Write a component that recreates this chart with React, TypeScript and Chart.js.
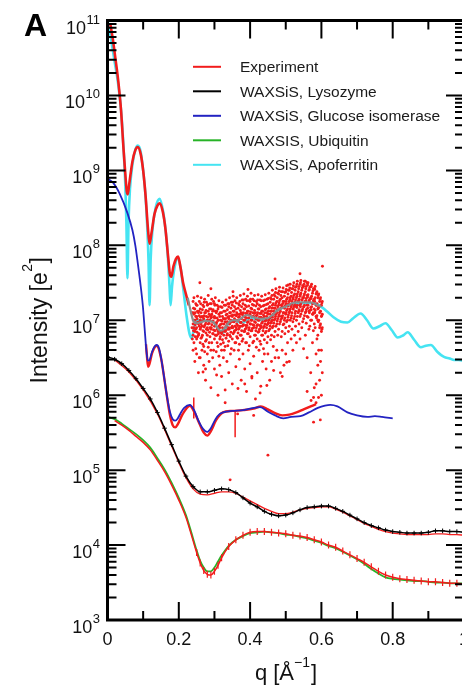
import React, { useEffect, useRef } from "react";
import { Chart, registerables } from "chart.js";
Chart.register(...registerables);

// ---------- data (q in 1/Å, intensities stored as log10 of e^2) ----------
const apoQ = [0, 0.01, 0.02, 0.03, 0.038, 0.045, 0.05, 0.053, 0.056, 0.059, 0.063, 0.07, 0.078, 0.085, 0.093, 0.1, 0.106, 0.111, 0.115, 0.118, 0.121, 0.126, 0.135, 0.146, 0.156, 0.164, 0.17, 0.174, 0.177, 0.181, 0.188, 0.197, 0.205, 0.213, 0.222, 0.23, 0.236, 0.243, 0.25, 0.262, 0.28, 0.296, 0.31, 0.318, 0.324, 0.33, 0.34, 0.352, 0.365, 0.38, 0.4, 0.428, 0.45, 0.465, 0.476, 0.493, 0.521, 0.56, 0.59, 0.615, 0.634, 0.655, 0.673, 0.69, 0.71, 0.728, 0.746, 0.763, 0.78, 0.797, 0.814, 0.83, 0.842, 0.86, 0.879, 0.893, 0.907, 0.925, 0.944, 0.96, 0.972, 0.985, 1.0];
const apoLogI = [11.0, 10.75, 10.45, 10.15, 9.8, 9.3, 8.8, 8.3, 7.56, 8.3, 8.75, 9.08, 9.27, 9.33, 9.25, 9.0, 8.7, 8.3, 7.8, 7.2, 7.8, 8.2, 8.5, 8.62, 8.45, 8.15, 7.8, 7.45, 7.2, 7.45, 7.7, 7.82, 7.7, 7.4, 7.05, 6.82, 6.76, 6.9, 7.0, 7.0, 7.0, 6.98, 6.88, 6.83, 6.83, 6.88, 6.96, 7.0, 6.98, 6.97, 7.03, 7.0, 7.0, 7.07, 7.13, 7.17, 7.21, 7.23, 7.21, 7.12, 7.04, 6.98, 6.97, 7.03, 7.09, 7.0, 6.89, 6.92, 6.96, 6.87, 6.77, 6.8, 6.84, 6.74, 6.64, 6.66, 6.67, 6.58, 6.51, 6.49, 6.47, 6.47, 6.46];

const expApoQ = [0.008, 0.015, 0.022, 0.03, 0.038, 0.045, 0.05, 0.054, 0.057, 0.061, 0.07, 0.078, 0.085, 0.093, 0.1, 0.107, 0.113, 0.118, 0.123, 0.132, 0.14, 0.146, 0.155, 0.163, 0.17, 0.175, 0.179, 0.185, 0.192, 0.198, 0.205, 0.212, 0.22, 0.228];
const expApoLogI = [10.95, 10.75, 10.5, 10.2, 9.8, 9.28, 8.95, 8.72, 8.68, 8.82, 9.12, 9.27, 9.31, 9.22, 9.0, 8.65, 8.25, 8.02, 8.15, 8.42, 8.53, 8.56, 8.45, 8.2, 7.85, 7.62, 7.58, 7.72, 7.82, 7.85, 7.7, 7.5, 7.35, 7.2];

const expApoSmoothQ = [0.225, 0.232, 0.24, 0.25, 0.259, 0.275, 0.296, 0.308, 0.318, 0.326, 0.338, 0.352, 0.365, 0.39, 0.41, 0.43, 0.45, 0.465, 0.476, 0.493, 0.53, 0.57, 0.59, 0.6];
const expApoSmoothLogI = [7.3, 7.15, 7.0, 6.96, 6.97, 6.99, 6.98, 6.9, 6.86, 6.88, 6.96, 7.0, 7.0, 7.07, 7.04, 7.02, 7.03, 7.08, 7.13, 7.17, 7.24, 7.24, 7.2, 7.18];

const apoScatterQ = [0.24, 0.245, 0.25, 0.255, 0.26, 0.265, 0.27, 0.275, 0.28, 0.285, 0.29, 0.295, 0.3, 0.305, 0.31, 0.315, 0.32, 0.325, 0.33, 0.335, 0.34, 0.345, 0.35, 0.355, 0.36, 0.365, 0.37, 0.375, 0.38, 0.385, 0.39, 0.395, 0.4, 0.405, 0.41, 0.415, 0.42, 0.425, 0.43, 0.435, 0.44, 0.445, 0.45, 0.455, 0.46, 0.465, 0.47, 0.475, 0.48, 0.485, 0.49, 0.495, 0.5, 0.505, 0.51, 0.515, 0.52, 0.525, 0.53, 0.535, 0.54, 0.545, 0.55, 0.555, 0.56, 0.565, 0.57, 0.575, 0.58, 0.585, 0.59, 0.595, 0.6];
const apoScatterLogI = [
  [7.25, 7.1, 6.95, 6.8, 6.6], [7.15, 7.0, 6.85, 6.45], [7.2, 7.05, 6.9, 6.75, 6.55], [7.1, 6.95, 6.8, 6.3],
  [7.15, 7.0, 6.88, 6.7, 6.5], [7.05, 6.92, 6.78, 6.6], [7.18, 7.02, 6.85, 6.65, 6.4], [7.1, 6.95, 6.72, 6.2],
  [7.2, 7.0, 6.9, 6.8, 6.55], [7.08, 6.96, 6.7, 6.45], [7.15, 7.03, 6.88, 6.6, 6.1], [7.12, 6.98, 6.82, 6.5],
  [7.22, 7.05, 6.92, 6.75, 6.35], [7.1, 6.95, 6.8, 6.58], [7.15, 7.0, 6.85, 6.65, 6.0], [7.05, 6.9, 6.75, 6.4],
  [7.1, 6.95, 6.82, 6.6, 6.25], [7.02, 6.88, 6.7, 6.5], [7.12, 6.98, 6.85, 6.65, 5.9], [7.08, 6.95, 6.8, 6.45],
  [7.18, 7.02, 6.9, 6.72, 6.3], [7.1, 6.97, 6.78, 6.55], [7.2, 7.05, 6.92, 6.75, 6.15], [7.12, 6.98, 6.84, 6.6],
  [7.15, 7.0, 6.87, 6.7, 6.38], [7.08, 6.93, 6.76, 5.75], [7.2, 7.05, 6.9, 6.68, 6.48], [7.1, 6.97, 6.8, 6.2],
  [7.22, 7.06, 6.93, 6.75, 6.55], [7.15, 7.0, 6.85, 6.35], [7.18, 7.03, 6.9, 6.7, 6.05], [7.12, 6.98, 6.82, 6.6],
  [7.25, 7.08, 6.95, 6.78, 6.42], [7.15, 7.0, 6.86, 6.25], [7.2, 7.05, 6.9, 6.72, 6.52], [7.1, 6.97, 6.8, 5.95],
  [7.22, 7.07, 6.93, 6.75, 6.3], [7.15, 7.0, 6.85, 6.6], [7.18, 7.04, 6.9, 6.68, 6.12], [7.12, 6.98, 6.8, 6.45],
  [7.2, 7.05, 6.92, 6.74, 6.55], [7.15, 7.0, 6.85, 6.35], [7.22, 7.08, 6.95, 6.78, 6.55], [7.18, 7.03, 6.88, 6.2],
  [7.28, 7.12, 6.98, 6.8, 6.45], [7.22, 7.08, 6.92, 6.65], [7.32, 7.16, 7.02, 6.85, 6.5], [7.25, 7.1, 6.95, 6.6],
  [7.35, 7.2, 7.05, 6.88, 6.5], [7.28, 7.12, 6.98, 6.3], [7.3, 7.18, 7.03, 6.85, 6.6], [7.25, 7.1, 6.95, 6.4],
  [7.38, 7.22, 7.08, 6.9, 6.55], [7.3, 7.15, 7.0, 6.7], [7.4, 7.25, 7.1, 6.92, 6.45], [7.32, 7.18, 7.03, 6.75],
  [7.42, 7.28, 7.15, 6.98, 6.6], [7.35, 7.2, 7.05, 6.8], [7.45, 7.3, 7.18, 7.0, 6.7], [7.38, 7.25, 7.1, 6.85],
  [7.48, 7.32, 7.2, 7.05, 6.75], [7.4, 7.27, 7.12, 6.9], [7.45, 7.3, 7.18, 7.02, 6.62], [7.38, 7.25, 7.1, 6.8],
  [7.5, 7.33, 7.2, 7.05, 6.5], [7.4, 7.26, 7.12, 6.88], [7.45, 7.3, 7.17, 7.0, 6.3], [7.36, 7.22, 7.08, 6.7],
  [7.42, 7.28, 7.15, 6.95, 6.1], [7.35, 7.2, 7.05, 6.55, 5.9], [7.3, 7.15, 7.0, 6.8, 6.4], [7.25, 7.1, 6.9, 6.2],
  [7.2, 7.05, 6.85, 6.6, 6.0],
];
const apoScatterQ2 = [0.2425, 0.2475, 0.2525, 0.2575, 0.2625, 0.2675, 0.2725, 0.2775, 0.2825, 0.2875, 0.2925, 0.2975, 0.3025, 0.3075, 0.3125, 0.3175, 0.3225, 0.3275, 0.3325, 0.3375, 0.3425, 0.3475, 0.3525, 0.3575, 0.3625, 0.3675, 0.3725, 0.3775, 0.3825, 0.3875, 0.3925, 0.3975, 0.4025, 0.4075, 0.4125, 0.4175, 0.4225, 0.4275, 0.4325, 0.4375, 0.4425, 0.4475, 0.4525, 0.4575, 0.4625, 0.4675, 0.4725, 0.4775, 0.4825, 0.4875, 0.4925, 0.4975, 0.5025, 0.5075, 0.5125, 0.5175, 0.5225, 0.5275, 0.5325, 0.5375, 0.5425, 0.5475, 0.5525, 0.5575, 0.5625, 0.5675, 0.5725, 0.5775, 0.5825, 0.5875, 0.5925, 0.5975, 0.6025];
const apoScatterLogI2 = [
  [7.3, 7.08, 6.9, 6.7], [7.22, 7.05, 6.88, 6.62], [7.32, 7.12, 6.97, 6.78], [7.25, 7.06, 6.92, 6.5],
  [7.3, 7.1, 6.95, 6.76], [7.2, 7.04, 6.86, 6.68], [7.28, 7.1, 6.93, 6.58], [7.24, 7.05, 6.88, 6.74],
  [7.33, 7.12, 6.95, 6.64], [7.22, 7.06, 6.9, 6.78], [7.28, 7.08, 6.94, 6.7], [7.25, 7.04, 6.87, 6.6],
  [7.3, 7.12, 6.96, 6.8], [7.2, 7.03, 6.88, 6.7], [7.26, 7.08, 6.92, 6.52], [7.18, 7.0, 6.84, 6.68],
  [7.24, 7.05, 6.9, 6.74], [7.2, 7.02, 6.86, 6.6], [7.27, 7.07, 6.92, 6.76], [7.22, 7.04, 6.88, 6.66],
  [7.3, 7.1, 6.95, 6.8], [7.24, 7.06, 6.9, 6.62], [7.32, 7.12, 6.98, 6.82], [7.26, 7.07, 6.92, 6.7],
  [7.3, 7.1, 6.95, 6.78], [7.22, 7.04, 6.88, 6.6], [7.33, 7.13, 6.97, 6.8], [7.27, 7.08, 6.92, 6.72],
  [7.35, 7.15, 7.0, 6.85], [7.28, 7.09, 6.93, 6.7], [7.32, 7.12, 6.97, 6.82], [7.26, 7.07, 6.9, 6.66],
  [7.36, 7.16, 7.0, 6.86], [7.28, 7.1, 6.94, 6.7], [7.33, 7.13, 6.98, 6.8], [7.25, 7.06, 6.9, 6.64],
  [7.34, 7.15, 7.0, 6.84], [7.27, 7.09, 6.93, 6.72], [7.32, 7.12, 6.96, 6.8], [7.26, 7.07, 6.9, 6.62],
  [7.34, 7.14, 6.99, 6.83], [7.28, 7.1, 6.94, 6.7], [7.36, 7.16, 7.0, 6.86], [7.3, 7.12, 6.96, 6.74],
  [7.4, 7.2, 7.04, 6.9], [7.34, 7.16, 7.0, 6.78], [7.42, 7.23, 7.08, 6.92], [7.36, 7.18, 7.02, 6.8],
  [7.44, 7.26, 7.1, 6.95], [7.38, 7.2, 7.05, 6.78], [7.43, 7.25, 7.1, 6.94], [7.37, 7.19, 7.03, 6.82],
  [7.46, 7.28, 7.13, 6.98], [7.4, 7.22, 7.07, 6.85], [7.48, 7.3, 7.15, 7.0], [7.42, 7.25, 7.1, 6.88],
  [7.5, 7.33, 7.18, 7.02], [7.44, 7.27, 7.12, 6.92], [7.52, 7.35, 7.2, 7.05], [7.45, 7.28, 7.14, 6.95],
  [7.53, 7.36, 7.22, 7.08], [7.46, 7.3, 7.15, 6.98], [7.52, 7.35, 7.2, 7.06], [7.45, 7.29, 7.14, 6.96],
  [7.5, 7.34, 7.2, 7.04], [7.44, 7.28, 7.13, 6.92], [7.48, 7.32, 7.18, 7.0], [7.42, 7.26, 7.1, 6.86],
  [7.45, 7.3, 7.13, 6.9], [7.38, 7.22, 7.06, 6.75], [7.35, 7.18, 7.0, 6.6], [7.3, 7.12, 6.95, 6.45],
  [7.25, 7.08, 6.9, 6.3],
];
const apoScatterQ3 = [0.24125, 0.24625, 0.25125, 0.25625, 0.26125, 0.26625, 0.27125, 0.27625, 0.28125, 0.28625, 0.29125, 0.29625, 0.30125, 0.30625, 0.31125, 0.31625, 0.32125, 0.32625, 0.33125, 0.33625, 0.34125, 0.34625, 0.35125, 0.35625, 0.36125, 0.36625, 0.37125, 0.37625, 0.38125, 0.38625, 0.39125, 0.39625, 0.40125, 0.40625, 0.41125, 0.41625, 0.42125, 0.42625, 0.43125, 0.43625, 0.44125, 0.44625, 0.45125, 0.45625, 0.46125, 0.46625, 0.47125, 0.47625, 0.48125, 0.48625, 0.49125, 0.49625, 0.50125, 0.50625, 0.51125, 0.51625, 0.52125, 0.52625, 0.53125, 0.53625, 0.54125, 0.54625, 0.55125, 0.55625, 0.56125, 0.56625, 0.57125, 0.57625, 0.58125, 0.58625, 0.59125, 0.59625, 0.60125];
const apoScatterLogI3 = [
  [7.16, 7.0, 6.86], [7.1, 6.94, 6.78], [7.2, 7.02, 6.84], [7.12, 6.97, 6.82], [7.22, 7.04, 6.9], [7.14, 6.99, 6.8],
  [7.24, 7.06, 6.91], [7.13, 6.98, 6.83], [7.21, 7.04, 6.87], [7.15, 7.0, 6.84], [7.22, 7.06, 6.9], [7.14, 6.99, 6.82],
  [7.2, 7.03, 6.86], [7.12, 6.97, 6.8], [7.18, 7.0, 6.82], [7.1, 6.94, 6.78], [7.17, 6.99, 6.84], [7.12, 6.95, 6.8],
  [7.2, 7.02, 6.86], [7.14, 6.98, 6.82], [7.22, 7.05, 6.88], [7.16, 7.0, 6.84], [7.24, 7.07, 6.9], [7.18, 7.02, 6.86],
  [7.23, 7.06, 6.9], [7.16, 7.0, 6.83], [7.25, 7.08, 6.92], [7.18, 7.02, 6.86], [7.27, 7.1, 6.94], [7.2, 7.04, 6.88],
  [7.26, 7.09, 6.93], [7.19, 7.03, 6.87], [7.28, 7.11, 6.95], [7.21, 7.05, 6.89], [7.26, 7.09, 6.93], [7.19, 7.02, 6.86],
  [7.27, 7.1, 6.94], [7.2, 7.04, 6.88], [7.26, 7.09, 6.92], [7.19, 7.03, 6.86], [7.27, 7.1, 6.95], [7.21, 7.05, 6.9],
  [7.29, 7.12, 6.97], [7.24, 7.08, 6.92], [7.33, 7.16, 7.0], [7.28, 7.12, 6.96], [7.37, 7.2, 7.05], [7.3, 7.14, 6.99],
  [7.39, 7.23, 7.07], [7.33, 7.16, 7.01], [7.38, 7.22, 7.06], [7.32, 7.16, 7.0], [7.41, 7.25, 7.1], [7.35, 7.19, 7.04],
  [7.43, 7.27, 7.12], [7.37, 7.21, 7.06], [7.46, 7.3, 7.15], [7.4, 7.24, 7.09], [7.48, 7.32, 7.17], [7.42, 7.26, 7.12],
  [7.5, 7.34, 7.18], [7.43, 7.27, 7.13], [7.48, 7.33, 7.18], [7.42, 7.26, 7.11], [7.47, 7.31, 7.16], [7.41, 7.25, 7.1],
  [7.45, 7.29, 7.14], [7.39, 7.23, 7.08], [7.41, 7.25, 7.1], [7.36, 7.2, 7.03], [7.33, 7.16, 6.98], [7.28, 7.11, 6.93],
  [7.23, 7.06, 6.88],
];
const apoOutliers = [
  [0.603, 7.72], [0.578, 5.97], [0.592, 5.97], [0.571, 5.93], [0.597, 5.67], [0.578, 5.64], [0.45, 5.2],
  [0.344, 4.87], [0.268, 6.31], [0.306, 6.27], [0.33, 6.07], [0.366, 6.09], [0.405, 6.23], [0.428, 6.03],
  [0.447, 6.13], [0.466, 6.33], [0.503, 6.44], [0.41, 5.73], [0.259, 7.5], [0.394, 7.41], [0.507, 7.47],
  [0.555, 7.52], [0.56, 6.05], [0.585, 6.15], [0.236, 7.1], [0.237, 6.9], [0.238, 6.75], [0.29, 7.42],
  [0.352, 7.38], [0.47, 7.55], [0.54, 7.62], [0.275, 6.35], [0.385, 6.15], [0.49, 6.25],
];

const glucoseQ = [0, 0.015, 0.034, 0.056, 0.07, 0.078, 0.085, 0.092, 0.099, 0.104, 0.109, 0.113, 0.118, 0.125, 0.132, 0.138, 0.145, 0.152, 0.16, 0.167, 0.175, 0.183, 0.19, 0.197, 0.205, 0.215, 0.231, 0.243, 0.255, 0.268, 0.279, 0.29, 0.303, 0.315, 0.324, 0.35, 0.38, 0.4, 0.428, 0.45, 0.47, 0.493, 0.515, 0.541, 0.565, 0.59, 0.61, 0.625, 0.645, 0.673, 0.7, 0.729, 0.75, 0.77, 0.8];
const glucoseLogI = [8.89, 8.84, 8.69, 8.43, 8.2, 8.0, 7.76, 7.5, 7.2, 6.9, 6.6, 6.46, 6.47, 6.58, 6.65, 6.67, 6.62, 6.45, 6.2, 5.98, 5.78, 5.68, 5.66, 5.69, 5.76, 5.83, 5.87, 5.8, 5.66, 5.55, 5.51, 5.56, 5.68, 5.75, 5.77, 5.79, 5.8, 5.82, 5.84, 5.78, 5.73, 5.69, 5.71, 5.72, 5.77, 5.83, 5.86, 5.87, 5.85, 5.77, 5.73, 5.71, 5.72, 5.71, 5.69];
const expGlucoseQ = [0.108, 0.111, 0.114, 0.118, 0.125, 0.138, 0.15, 0.163, 0.175, 0.183, 0.19, 0.198, 0.21, 0.231, 0.245, 0.258, 0.27, 0.28, 0.29, 0.305, 0.324, 0.35, 0.38, 0.41, 0.43, 0.45, 0.47, 0.49, 0.51, 0.53, 0.55, 0.57, 0.585];
const expGlucoseLogI = [6.68, 6.5, 6.38, 6.42, 6.56, 6.66, 6.5, 6.1, 5.74, 5.6, 5.57, 5.62, 5.74, 5.86, 5.76, 5.62, 5.5, 5.46, 5.52, 5.67, 5.77, 5.79, 5.8, 5.82, 5.85, 5.81, 5.76, 5.73, 5.74, 5.77, 5.81, 5.85, 5.88];
const glucoseSpikes = [[0.242, 5.69, 5.97], [0.358, 5.44, 5.8]];

const lysoQ = [0, 0.02, 0.04, 0.06, 0.08, 0.1, 0.12, 0.14, 0.16, 0.18, 0.2, 0.22, 0.24, 0.26, 0.28, 0.3, 0.32, 0.34, 0.36, 0.38, 0.4, 0.42, 0.44, 0.46, 0.48, 0.5, 0.52, 0.54, 0.56, 0.58, 0.6, 0.62, 0.64, 0.66, 0.68, 0.7, 0.72, 0.74, 0.76, 0.78, 0.8, 0.82, 0.84, 0.86, 0.88, 0.9, 0.92, 0.94, 0.96, 0.98, 1.0];
const lysoLogI = [6.51, 6.48, 6.42, 6.33, 6.22, 6.09, 5.95, 5.77, 5.56, 5.34, 5.12, 4.92, 4.78, 4.71, 4.71, 4.73, 4.75, 4.74, 4.7, 4.63, 4.56, 4.51, 4.45, 4.41, 4.39, 4.4, 4.43, 4.47, 4.5, 4.51, 4.52, 4.52, 4.49, 4.45, 4.4, 4.35, 4.3, 4.26, 4.23, 4.2, 4.18, 4.17, 4.16, 4.16, 4.16, 4.17, 4.19, 4.19, 4.18, 4.18, 4.17];
const expLysoQ = [0.02, 0.06, 0.1, 0.14, 0.18, 0.2, 0.22, 0.24, 0.26, 0.28, 0.3, 0.32, 0.34, 0.36, 0.38, 0.4, 0.42, 0.44, 0.46, 0.48, 0.5, 0.52, 0.54, 0.56, 0.58, 0.6, 0.62, 0.64, 0.66, 0.68, 0.7, 0.72, 0.74, 0.76, 0.78, 0.8, 0.82, 0.84, 0.86, 0.88, 0.9, 0.92, 0.94, 0.96, 0.98, 1.0];
const expLysoLogI = [6.47, 6.31, 6.07, 5.75, 5.32, 5.1, 4.9, 4.75, 4.68, 4.67, 4.69, 4.71, 4.71, 4.69, 4.64, 4.59, 4.54, 4.49, 4.45, 4.42, 4.42, 4.44, 4.47, 4.49, 4.5, 4.51, 4.51, 4.48, 4.44, 4.39, 4.34, 4.29, 4.25, 4.21, 4.18, 4.16, 4.15, 4.14, 4.14, 4.14, 4.14, 4.15, 4.15, 4.14, 4.14, 4.13];

const ubiQ = [0, 0.02, 0.04, 0.06, 0.08, 0.1, 0.12, 0.14, 0.16, 0.18, 0.2, 0.22, 0.235, 0.25, 0.26, 0.27, 0.28, 0.29, 0.3, 0.31, 0.32, 0.34, 0.36, 0.38, 0.4, 0.42, 0.44, 0.46, 0.48, 0.5, 0.52, 0.54, 0.56, 0.58, 0.6, 0.62, 0.64, 0.66, 0.68, 0.7, 0.72, 0.74, 0.76, 0.78, 0.8, 0.82, 0.84, 0.86, 0.88, 0.9, 0.92, 0.94, 0.96, 0.98, 1.0];
const ubiLogI = [5.71, 5.68, 5.62, 5.55, 5.48, 5.4, 5.3, 5.16, 5.01, 4.83, 4.63, 4.4, 4.17, 3.93, 3.79, 3.7, 3.65, 3.65, 3.7, 3.78, 3.86, 3.99, 4.07, 4.12, 4.16, 4.17, 4.18, 4.17, 4.16, 4.14, 4.13, 4.11, 4.09, 4.06, 4.03, 3.99, 3.96, 3.91, 3.86, 3.81, 3.75, 3.68, 3.62, 3.57, 3.55, 3.54, 3.53, 3.52, 3.52, 3.51, 3.5, 3.5, 3.49, 3.49, 3.49];
const expUbiQ = [0.02, 0.04, 0.06, 0.08, 0.1, 0.12, 0.14, 0.16, 0.18, 0.2, 0.22, 0.235, 0.25, 0.26, 0.27, 0.28, 0.29, 0.3, 0.31, 0.32, 0.34, 0.36, 0.38, 0.4, 0.42, 0.44, 0.46, 0.48, 0.5, 0.52, 0.54, 0.56, 0.58, 0.6, 0.62, 0.64, 0.66, 0.68, 0.7, 0.72, 0.74, 0.76, 0.78, 0.8, 0.82, 0.84, 0.86, 0.88, 0.9, 0.92, 0.94, 0.96, 0.98, 1.0];
const expUbiLogI = [5.66, 5.6, 5.53, 5.45, 5.37, 5.27, 5.13, 4.98, 4.8, 4.6, 4.37, 4.14, 3.9, 3.76, 3.66, 3.61, 3.6, 3.65, 3.73, 3.83, 3.98, 4.07, 4.13, 4.17, 4.18, 4.18, 4.17, 4.16, 4.15, 4.13, 4.12, 4.1, 4.07, 4.04, 4.0, 3.97, 3.92, 3.87, 3.82, 3.77, 3.71, 3.65, 3.6, 3.57, 3.55, 3.54, 3.53, 3.52, 3.51, 3.51, 3.5, 3.49, 3.49, 3.48];

const legendLabels = ["Experiment", "WAXSiS, Lysozyme", "WAXSiS, Glucose isomerase", "WAXSIS, Ubiquitin", "WAXSiS, Apoferritin"];
const yTickExponents = [3, 4, 5, 6, 7, 8, 9, 10, 11];
const xTickValues = [0, 0.2, 0.4, 0.6, 0.8, 1.0];
const xTickLabels = ["0", "0.2", "0.4", "0.6", "0.8", "1"];

// ---------- styles ----------
const RED = "#f21c1c";
const BLACK = "#000000";
const BLUE = "#2323c2";
const GREEN = "#27b327";
const CYAN = "#45e4f2";
const GRAY = "#8c8c8c";
const legendColors = [RED, BLACK, BLUE, GREEN, CYAN];
const FONT = '"Liberation Sans", Arial, sans-serif';

const pts = (q: number[], logI: number[]) => q.map((x, i) => ({ x, y: Math.pow(10, logI[i]) }));
const colPts = (q: number[], cols: number[][]) => q.flatMap((x, i) => cols[i].map((v) => ({ x, y: Math.pow(10, v) })));

const framePlugin = {
  id: "frame",
  afterDraw(chart: any) {
    const { ctx, chartArea: a, scales } = chart;
    const xs = scales.x;
    const ys = scales.y;
    ctx.save();
    ctx.strokeStyle = "#000";
    ctx.lineCap = "butt";
    ctx.lineWidth = 2;
    ctx.beginPath();
    for (let i = 0; i <= 10; i++) {
      const px = xs.getPixelForValue(i / 10);
      const len = i % 2 === 0 ? 18 : 9;
      ctx.moveTo(px, a.bottom);
      ctx.lineTo(px, a.bottom - len);
      ctx.moveTo(px, a.top);
      ctx.lineTo(px, a.top + len);
    }
    for (let e = 3; e <= 11; e++) {
      for (let m = 1; m <= 9; m++) {
        if (e === 11 && m > 1) break;
        const py = ys.getPixelForValue(m * Math.pow(10, e));
        const len = m === 1 ? 18 : 9;
        ctx.moveTo(a.left, py);
        ctx.lineTo(a.left + len, py);
        ctx.moveTo(a.right, py);
        ctx.lineTo(a.right - len, py);
      }
    }
    ctx.stroke();
    ctx.lineWidth = 3;
    ctx.strokeRect(a.left, a.top, a.right - a.left, a.bottom - a.top);

    ctx.fillStyle = "#111";
    ctx.textBaseline = "alphabetic";
    yTickExponents.forEach((e) => {
      const py = ys.getPixelForValue(Math.pow(10, e));
      ctx.font = `13px ${FONT}`;
      const sup = String(e);
      const sw = ctx.measureText(sup).width;
      ctx.textAlign = "right";
      ctx.fillText(sup, 100, py + 3);
      ctx.font = `18px ${FONT}`;
      ctx.fillText("10", 100 - sw - 0.5, py + 13);
    });
    ctx.font = `18px ${FONT}`;
    ctx.textAlign = "center";
    xTickValues.forEach((v, i) => {
      ctx.fillText(xTickLabels[i], xs.getPixelForValue(v), 645);
    });

    ctx.textAlign = "left";
    const big = `22px ${FONT}`;
    const small = `14px ${FONT}`;
    ctx.font = big;
    const w1 = ctx.measureText("q [Å").width;
    const w3 = ctx.measureText("]").width;
    ctx.font = small;
    const w2 = ctx.measureText("−1").width;
    const total = w1 + w2 + w3 + 1;
    const sx = 286 - total / 2;
    ctx.font = big;
    ctx.fillText("q [Å", sx, 680);
    ctx.font = small;
    ctx.fillText("−1", sx + w1, 667);
    ctx.font = big;
    ctx.fillText("]", sx + w1 + w2 + 1, 680);

    ctx.save();
    ctx.translate(47, (a.top + a.bottom) / 2);
    ctx.rotate(-Math.PI / 2);
    const ybig = `23px ${FONT}`;
    const ysmall = `14px ${FONT}`;
    ctx.font = ybig;
    const t1 = ctx.measureText("Intensity [e").width;
    const t3 = ctx.measureText("]").width;
    ctx.font = ysmall;
    const t2 = ctx.measureText("2").width;
    const tt = t1 + t2 + t3 + 1;
    const tx = -tt / 2;
    ctx.font = ybig;
    ctx.fillText("Intensity [e", tx, 0);
    ctx.font = ysmall;
    ctx.fillText("2", tx + t1 + 0.5, -15);
    ctx.font = ybig;
    ctx.fillText("]", tx + t1 + t2 + 1, 0);
    ctx.restore();

    ctx.font = `15.5px ${FONT}`;
    ctx.textAlign = "left";
    legendLabels.forEach((lab, i) => {
      const base = 72.3 + i * 24.5;
      ctx.strokeStyle = legendColors[i];
      ctx.lineWidth = 2;
      ctx.beginPath();
      ctx.moveTo(193, base - 5.5);
      ctx.lineTo(221, base - 5.5);
      ctx.stroke();
      ctx.fillStyle = "#1a1a1a";
      ctx.fillText(lab, 240, base);
    });

    ctx.fillStyle = "#000";
    ctx.font = `bold 32px ${FONT}`;
    ctx.fillText("A", 24, 36);
    ctx.restore();
  },
};

export default function App() {
  const ref = useRef<HTMLCanvasElement | null>(null);
  useEffect(() => {
    if (!ref.current) return;
    const scatterPts = [
      ...colPts(apoScatterQ, apoScatterLogI),
      ...colPts(apoScatterQ2, apoScatterLogI2),
      ...colPts(apoScatterQ3, apoScatterLogI3),
      ...apoOutliers.map(([q, v]) => ({ x: q, y: Math.pow(10, v) })),
    ];
    const line = (data: any[], color: string, width: number, order: number, extra: any = {}) => ({
      data,
      borderColor: color,
      backgroundColor: color,
      borderWidth: width,
      pointRadius: 0,
      fill: false,
      cubicInterpolationMode: "monotone",
      order,
      ...extra,
    });
    const datasets: any[] = [
      line(pts(apoQ, apoLogI), CYAN, 2.6, 20),
      line(scatterPts, RED, 0, 15, {
        showLine: false,
        pointRadius: 1.45,
        pointBorderWidth: 0,
        pointBackgroundColor: RED,
      }),
      line(pts(expApoQ, expApoLogI), RED, 2.6, 12),
      line(pts(expApoSmoothQ, expApoSmoothLogI), GRAY, 2.2, 10),
      line(pts(expGlucoseQ, expGlucoseLogI), RED, 2.4, 9),
      ...glucoseSpikes.map(([q, lo, hi]) =>
        line([{ x: q, y: Math.pow(10, lo) }, { x: q, y: Math.pow(10, hi) }], RED, 1.5, 9, { cubicInterpolationMode: "default" })
      ),
      line(pts(glucoseQ, glucoseLogI), BLUE, 1.8, 8),
      line(pts(expLysoQ, expLysoLogI), RED, 1.3, 7),
      line(pts(lysoQ, lysoLogI), BLACK, 1.5, 6, {
        pointRadius: 2.3,
        pointStyle: "cross",
        pointBorderWidth: 1,
        pointBorderColor: BLACK,
      }),
      line(pts(ubiQ, ubiLogI), GREEN, 1.8, 5),
      line(pts(expUbiQ, expUbiLogI), RED, 1.5, 4, {
        pointStyle: "line",
        pointRotation: 90,
        pointRadius: (c: any) => (c.raw && c.raw.x >= 0.25 ? 3.5 : 0),
        pointBorderWidth: 1.2,
        pointBorderColor: RED,
      }),
    ];
    const chart = new Chart(ref.current, {
      type: "line",
      data: { datasets },
      options: {
        animation: false,
        responsive: false,
        devicePixelRatio: 1,
        layout: { padding: { left: 107.5, right: 6, top: 20.5, bottom: 68 } },
        plugins: { legend: { display: false }, tooltip: { enabled: false } },
        scales: {
          x: { type: "linear", min: 0, max: 1, display: false },
          y: { type: "logarithmic", min: 1e3, max: 1e11, display: false },
        },
      },
      plugins: [framePlugin],
    } as any);
    return () => chart.destroy();
  }, []);
  return (
    <div style={{ position: "fixed", left: 0, top: 0, width: 462, height: 688, overflow: "hidden", background: "#fff" }}>
      <canvas ref={ref} width={470} height={688} style={{ display: "block", width: 470, height: 688 }} />
    </div>
  );
}
